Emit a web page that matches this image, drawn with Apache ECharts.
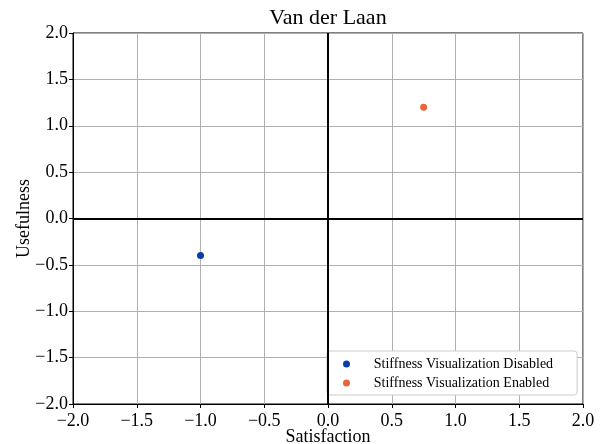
<!DOCTYPE html>
<html><head><meta charset="utf-8">
<script src="https://cdn.jsdelivr.net/npm/echarts@6/dist/echarts.min.js"></script>
<style>html,body{margin:0;padding:0;background:#fff}#c{width:602px;height:444px}</style>
</head><body><div id="c"></div>
<script>
const seriesNames = ['Stiffness Visualization Disabled', 'Stiffness Visualization Enabled'];
const satisfaction = [-1.0, 0.75];
const usefulness = [-0.4, 1.2];
const colors = ['#0b3ca8', '#e8643a'];
const tickMin = -2, tickMax = 2, tickStep = 0.5;

const fmt = v => { const s = v.toFixed(1); return s.replace('-', '\u2212'); };
const font = 'Liberation Serif';
const chart = echarts.init(document.getElementById('c'));
const axisCommon = {
  type: 'value', min: tickMin, max: tickMax, interval: tickStep,
  axisLine: { show: true, onZero: false, lineStyle: { color: '#000', width: 1 } },
  axisTick: { show: true, length: 4, lineStyle: { color: '#000' } },
  axisLabel: { formatter: fmt, color: '#000', fontFamily: font, fontSize: 18, margin: 5 },
  splitLine: { show: true, lineStyle: { color: '#b0b0b0', width: 1 } },
  nameTextStyle: { color: '#000', fontFamily: font, fontSize: 18 },
  nameLocation: 'middle',
  nameMoveOverlap: false
};
chart.setOption({
  animation: false,
  title: { text: 'Van der Laan', left: 328, top: 7, padding: 0, textAlign: 'center',
    textStyle: { fontFamily: font, fontSize: 22, fontWeight: 'normal', color: '#000' } },
  grid: { left: 73, right: 19, top: 33, bottom: 40, show: true, borderColor: '#000', borderWidth: 1,
    containLabel: false, outerBoundsMode: 'none' },
  xAxis: Object.assign({}, axisCommon, { name: 'Satisfaction', nameGap: 24,
    axisLabel: Object.assign({}, axisCommon.axisLabel, { margin: 8 }) }),
  yAxis: Object.assign({}, axisCommon, { name: 'Usefulness', nameGap: 40 }),
  legend: {
    left: 327, top: 351, orient: 'vertical', icon: 'circle',
    itemWidth: 25, itemHeight: 7, itemGap: 5,
    padding: [6, 24, 5, 16],
    backgroundColor: '#fff', borderColor: '#cccccc', borderWidth: 1, borderRadius: 3,
    formatter: n => '\u2002\u2009' + n,
    textStyle: { fontFamily: font, fontSize: 14, color: '#000', lineHeight: 14 },
    data: seriesNames
  },
  series: [
    { name: seriesNames[0], type: 'scatter', symbolSize: 7, z: 5,
      itemStyle: { color: colors[0], opacity: 1 },
      data: [[satisfaction[0], usefulness[0]]],
      markLine: { silent: true, symbol: 'none', label: { show: false }, animation: false,
        lineStyle: { color: '#000', width: 2, type: 'solid' },
        data: [{ xAxis: 0 }, { yAxis: 0 }] } },
    { name: seriesNames[1], type: 'scatter', symbolSize: 7, z: 5,
      itemStyle: { color: colors[1], opacity: 1 },
      data: [[satisfaction[1], usefulness[1]]] }
  ]
});
</script></body></html>
